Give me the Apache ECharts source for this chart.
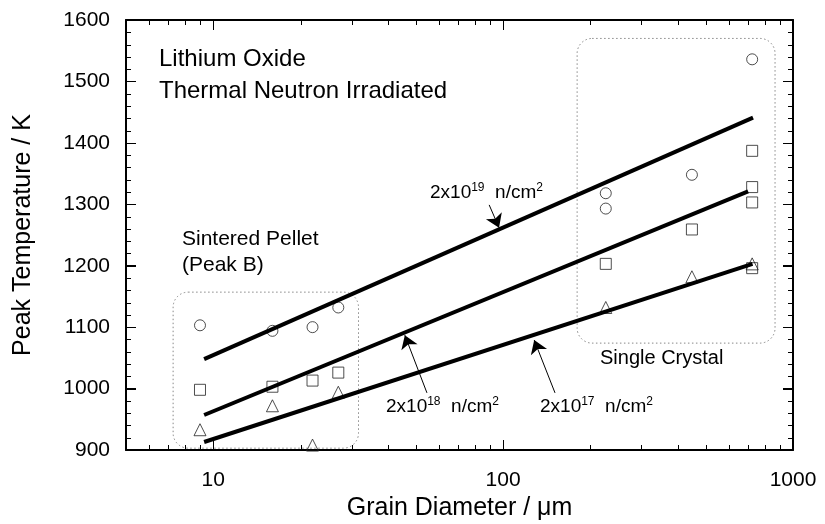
<!DOCTYPE html>
<html>
<head>
<meta charset="utf-8">
<script src="https://cdn.jsdelivr.net/npm/echarts@6/dist/echarts.min.js"></script>
<style>
  html, body { margin: 0; padding: 0; background: #fff; }
  #main { width: 825px; height: 524px; }
</style>
</head>
<body>
<div id="main"></div>
<script>
// grain diameter (um) / peak temperature (K)
const circleX = [9, 16, 22, 27, 226, 226, 448, 723];
const circleY = [1103, 1094, 1100, 1132, 1318, 1293, 1348, 1536];
const squareX = [9, 16, 22, 27, 226, 448, 723, 723, 723, 723];
const squareY = [998, 1003, 1013, 1026, 1203, 1259, 1387, 1328, 1303, 1196];
const triangleX = [9, 16, 22, 27, 226, 448, 723];
const triangleY = [933, 972, 908, 994, 1132, 1182, 1203];

// fitted lines (end points)
const fitX19 = [9.3, 728];
const fitY19 = [1048, 1441];
const fitX18 = [9.3, 700];
const fitY18 = [957, 1321];
const fitX17 = [9.3, 725];
const fitY17 = [913, 1203];

// arrow tail/tip for the fluence labels
const arrow19 = [[89.5, 1299], [96.8, 1262]];
const arrow18 = [[54.6, 993], [45.8, 1087]];
const arrow17 = [[151, 993], [128, 1079]];

// dotted group boxes [xmin, xmax, ymin, ymax]
const boxSintered = [7.27, 31.7, 903, 1157];
const boxCrystal = [180, 867, 1074, 1570];

// tick values
const xMajor = [10, 100, 1000];
const xMinor = [6, 7, 8, 9, 20, 30, 40, 50, 60, 70, 80, 90, 200, 300, 400, 500, 600, 700, 800, 900];
const yMajor = [900, 1000, 1100, 1200, 1300, 1400, 1500, 1600];
const yMinor = [920, 940, 960, 980, 1020, 1040, 1060, 1080, 1120, 1140, 1160, 1180, 1220, 1240, 1260, 1280,
  1320, 1340, 1360, 1380, 1420, 1440, 1460, 1480, 1520, 1540, 1560, 1580];

const FONT = 'Liberation Sans';
const zip = (xs, ys) => xs.map((x, i) => [x, ys[i]]);
const plain = v => String(Math.round(v));

const chart = echarts.init(document.getElementById('main'));

const axisLine = { show: true, onZero: false, lineStyle: { color: '#000', width: 2 } };
const tickStyle = { color: '#000', width: 1 };

// tick rows: [x, y, direction, length]; direction 0 up, 1 down, 2 right, 3 left
const tickData = [];
[[xMajor, 10], [xMinor, 5]].forEach(([vals, len]) => vals.forEach(v => {
  tickData.push([v, 900, 0, len], [v, 1600, 1, len]);
}));
[[yMajor, 10], [yMinor, 5]].forEach(([vals, len]) => vals.forEach(v => {
  tickData.push([5, v, 2, len], [1000, v, 3, len]);
}));

function renderTick(params, api) {
  const p = api.coord([api.value(0), api.value(1)]);
  const dir = api.value(2), len = api.value(3);
  let shape;
  if (dir < 2) {
    const x = Math.round(p[0]) + 0.5;
    shape = { x1: x, y1: p[1], x2: x, y2: p[1] + (dir === 0 ? -len : len) };
  } else {
    const y = Math.round(p[1]) + 0.5;
    shape = { x1: p[0], y1: y, x2: p[0] + (dir === 2 ? len : -len), y2: y };
  }
  return { type: 'line', shape: shape, style: { stroke: '#000', lineWidth: 1 } };
}

function arrowLine(a) {
  return {
    silent: true, animation: false,
    symbol: ['none', 'arrow'], symbolSize: 13,
    label: { show: false },
    lineStyle: { color: '#000', width: 1, type: 'solid' },
    emphasis: { disabled: true },
    data: [[{ coord: a[0] }, { coord: a[1] }]]
  };
}
function fitLine(xs, ys, arrow) {
  return {
    type: 'line', data: zip(xs, ys), showSymbol: false, silent: true,
    lineStyle: { color: '#000', width: 4 },
    markLine: arrowLine(arrow)
  };
}
function pts(xs, ys, symbol, size) {
  return {
    type: 'scatter', data: zip(xs, ys), symbol: symbol, symbolSize: size, silent: true,
    itemStyle: { color: 'rgba(255,255,255,0)', borderColor: '#222', borderWidth: 1 }
  };
}

chart.setOption({
  animation: false,
  backgroundColor: '#fff',
  grid: { left: 126, right: 32, top: 20, bottom: 74, containLabel: false, outerBoundsMode: 'none' },
  xAxis: [
    {
      type: 'log', logBase: 10, min: 5, max: 1000, position: 'bottom',
      axisLine: axisLine, splitLine: { show: false },
      axisTick: { show: true, inside: true, length: 10, customValues: xMajor, lineStyle: tickStyle },
      axisLabel: { customValues: xMajor, margin: 20, color: '#000', fontFamily: FONT, fontSize: 21, formatter: plain },
      name: 'Grain Diameter / \u03bcm', nameLocation: 'middle', nameGap: 45,
      nameTextStyle: { color: '#000', fontFamily: FONT, fontSize: 25 }
    },
    {
      type: 'log', logBase: 10, min: 5, max: 1000, position: 'top',
      axisLine: axisLine, axisLabel: { show: false }, splitLine: { show: false },
      axisTick: { show: true, inside: true, length: 10, customValues: xMajor, lineStyle: tickStyle }
    }
  ],
  yAxis: [
    {
      type: 'value', min: 900, max: 1600, interval: 100, position: 'left',
      axisLine: axisLine, splitLine: { show: false },
      axisTick: { show: true, inside: true, length: 10, lineStyle: tickStyle },
      axisLabel: { margin: 16, color: '#000', fontFamily: FONT, fontSize: 21, formatter: plain },
      name: 'Peak Temperature / K', nameLocation: 'middle', nameGap: 90,
      nameTextStyle: { color: '#000', fontFamily: FONT, fontSize: 25 }
    },
    {
      type: 'value', min: 900, max: 1600, interval: 100, position: 'right',
      axisLine: axisLine, axisLabel: { show: false }, splitLine: { show: false },
      axisTick: { show: true, inside: true, length: 10, lineStyle: tickStyle }
    }
  ],
  series: [
    fitLine(fitX19, fitY19, arrow19),
    fitLine(fitX18, fitY18, arrow18),
    fitLine(fitX17, fitY17, arrow17),
    pts(circleX, circleY, 'circle', 11),
    pts(squareX, squareY, 'rect', 11),
    pts(triangleX, triangleY, 'triangle', 12),
    {
      type: 'custom', data: tickData, renderItem: renderTick,
      encode: { x: 0, y: 1 }, clip: false, silent: true, z: 10
    }
  ]
});

const toPx = p => chart.convertToPixel({ xAxisIndex: 0, yAxisIndex: 0 }, p);

function boxRect(b) {
  const p0 = toPx([b[0], b[3]]);
  const p1 = toPx([b[1], b[2]]);
  return {
    type: 'rect', silent: true, z: -1,
    shape: { x: p0[0], y: p0[1], width: p1[0] - p0[0], height: p1[1] - p0[1], r: 15 },
    style: { fill: 'none', stroke: '#888', lineWidth: 1, lineDash: [1.5, 2.5] }
  };
}
function txt(x, y, s, size) {
  return {
    type: 'text', left: x, top: y, silent: true,
    style: { text: s, fill: '#000', font: size + 'px "' + FONT + '"' }
  };
}
const rich = {
  n: { fontFamily: FONT, fontSize: 19, lineHeight: 20, verticalAlign: 'bottom', color: '#000' },
  s: { fontFamily: FONT, fontSize: 12, lineHeight: 14, verticalAlign: 'top', color: '#000' }
};
function flu(x, y, e) {
  return {
    type: 'text', left: x, top: y, silent: true,
    style: { text: '{n|2x10}{s|' + e + '}{n|  n/cm}{s|2}', rich: rich, fill: '#000', lineHeight: 28 }
  };
}

chart.setOption({
  graphic: [
    boxRect(boxSintered),
    boxRect(boxCrystal),
    txt(159, 47, 'Lithium Oxide', 24),
    txt(159, 79, 'Thermal Neutron Irradiated', 24),
    txt(182, 229, 'Sintered Pellet', 21),
    txt(182, 255, '(Peak B)', 21),
    txt(600, 348, 'Single Crystal', 20),
    flu(430, 182, '19'),
    flu(386, 396, '18'),
    flu(540, 396, '17')
  ]
});
</script>
</body>
</html>
